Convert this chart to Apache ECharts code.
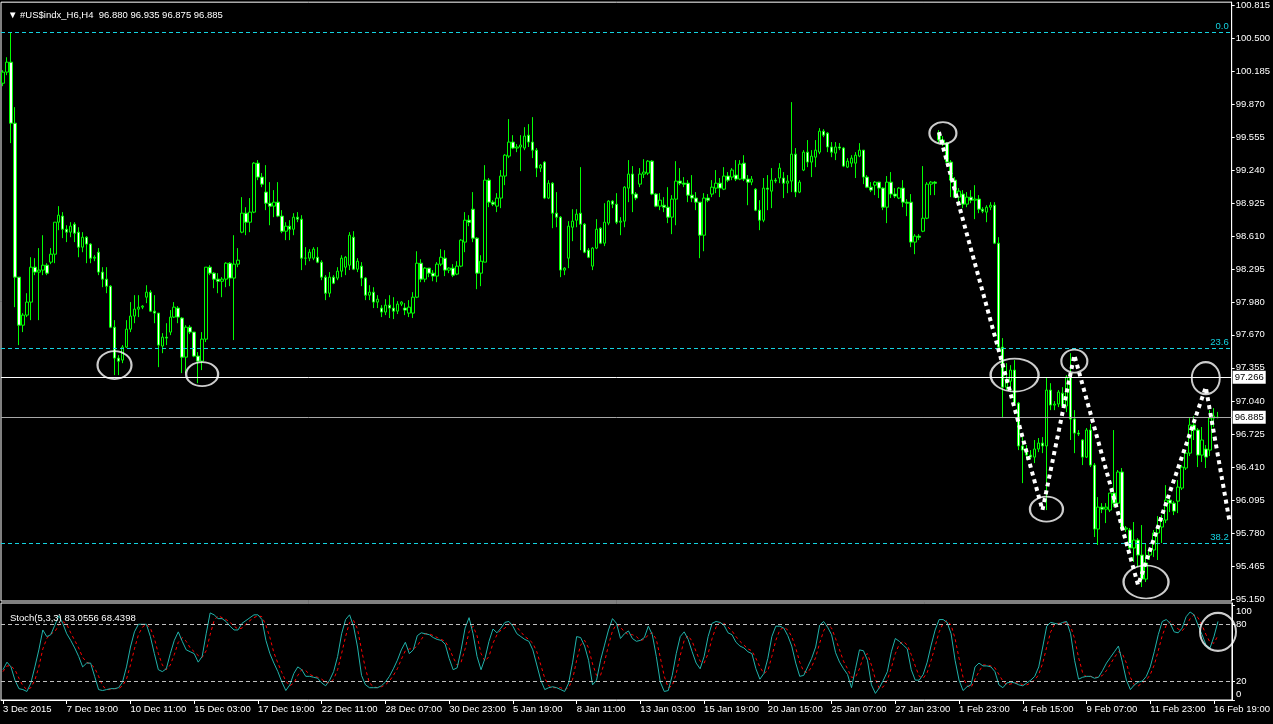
<!DOCTYPE html>
<html><head><meta charset="utf-8">
<script src="https://cdn.jsdelivr.net/npm/echarts@6/dist/echarts.min.js"></script>
<style>html,body{margin:0;padding:0;background:#000;overflow:hidden}#c{width:1273px;height:724px}</style>
</head><body><div id="c"></div>
<script>
const timeLabels = ['3 Dec 2015','7 Dec 19:00','10 Dec 11:00','15 Dec 03:00','17 Dec 19:00','22 Dec 11:00','28 Dec 07:00','30 Dec 23:00','5 Jan 19:00','8 Jan 11:00','13 Jan 03:00','15 Jan 19:00','20 Jan 15:00','25 Jan 07:00','27 Jan 23:00','1 Feb 23:00','4 Feb 15:00','9 Feb 07:00','11 Feb 23:00','16 Feb 19:00'];
const priceTicks = [95.150,95.465,95.780,96.095,96.410,96.725,97.040,97.355,97.670,97.980,98.295,98.610,98.925,99.240,99.555,99.870,100.185,100.500,100.815];
const stochTicks = [0,20,80,100];

const opens = [100.069,100.175,100.270,99.688,98.220,97.762,97.858,97.982,98.315,98.268,
98.287,98.334,98.363,98.439,98.744,98.802,98.677,98.649,98.725,98.649,
98.506,98.601,98.535,98.401,98.458,98.268,98.201,98.134,97.743,97.448,
97.429,97.553,97.724,97.849,97.915,97.934,98.029,98.077,97.896,97.877,
97.563,97.648,97.696,97.839,97.925,97.830,97.457,97.743,97.696,97.467,
97.419,97.629,98.315,98.258,98.201,98.181,98.201,98.353,98.211,98.344,
98.649,98.830,98.744,98.840,99.307,99.174,99.031,98.925,98.897,98.935,
98.802,98.658,98.706,98.677,98.792,98.773,98.401,98.401,98.401,98.410,
98.363,98.220,98.067,98.220,98.211,98.277,98.315,98.334,98.601,98.296,
98.325,98.211,98.048,98.077,97.982,97.925,97.887,97.953,97.925,97.896,
97.963,97.925,97.877,97.877,98.029,98.353,98.201,98.306,98.258,98.230,
98.344,98.401,98.287,98.306,98.249,98.325,98.554,98.763,98.868,98.592,
98.258,98.363,99.145,98.935,98.897,98.974,99.184,99.374,99.508,99.451,
99.461,99.451,99.574,99.508,99.431,99.260,99.317,98.974,99.116,98.830,
98.792,98.287,98.401,98.696,98.763,98.830,98.725,98.477,98.325,98.497,
98.687,98.544,98.735,98.945,98.916,98.744,98.754,99.069,99.203,99.012,
99.107,99.203,99.212,99.326,99.012,98.897,98.906,98.887,98.792,98.964,
99.136,99.116,99.116,99.002,98.974,98.935,98.620,98.974,99.012,99.069,
99.116,99.059,99.184,99.174,99.193,99.155,99.307,99.155,99.126,99.059,
98.859,98.763,99.069,99.040,99.145,99.165,99.165,99.116,99.136,99.393,
99.031,99.241,99.412,99.317,99.364,99.412,99.612,99.593,99.461,99.403,
99.461,99.451,99.269,99.307,99.307,99.374,99.431,99.174,99.078,99.097,
99.126,99.069,98.887,99.126,99.012,98.974,99.069,98.935,98.935,98.554,
98.611,98.658,98.782,99.107,99.126,99.593,99.527,99.498,99.317,99.145,
98.983,99.012,98.916,98.983,98.954,98.964,98.868,98.840,98.887,98.906,
98.544,97.553,97.171,97.228,97.334,97.019,96.610,96.571,96.523,96.504,
96.581,96.638,96.610,97.143,97.000,97.010,97.114,96.991,97.286,96.867,
96.733,96.667,96.504,96.762,96.428,95.818,96.027,96.008,95.999,96.161,
96.065,96.362,95.818,95.809,95.637,95.713,95.570,95.341,95.570,95.618,
95.780,95.837,95.904,96.094,96.065,96.084,96.209,96.400,96.542,96.810,
96.762,96.523,96.581,96.571,96.876,96.880];

const closes = [100.175,100.270,99.688,98.220,97.762,97.858,97.982,98.315,98.268,98.287,
98.334,98.258,98.439,98.744,98.811,98.677,98.649,98.706,98.639,98.506,
98.601,98.535,98.401,98.410,98.268,98.201,98.134,97.743,97.448,97.419,
97.553,97.724,97.849,97.915,97.934,97.944,98.077,97.896,97.877,97.572,
97.648,97.639,97.839,97.934,97.839,97.457,97.743,97.696,97.467,97.419,
97.629,98.315,98.258,98.201,98.181,98.201,98.353,98.211,98.344,98.382,
98.830,98.744,98.840,99.307,99.174,99.107,98.925,98.897,98.935,98.802,
98.658,98.706,98.677,98.792,98.773,98.401,98.401,98.458,98.487,98.363,
98.220,98.067,98.220,98.162,98.277,98.401,98.410,98.620,98.296,98.372,
98.211,98.048,98.077,97.982,98.010,97.887,97.953,97.925,97.896,97.963,
97.982,97.906,97.934,98.029,98.353,98.201,98.306,98.258,98.230,98.344,
98.410,98.287,98.306,98.239,98.325,98.573,98.763,98.744,98.592,98.258,
98.372,99.145,98.935,98.916,98.974,99.184,99.383,99.508,99.451,99.461,
99.480,99.565,99.508,99.431,99.260,99.288,98.974,99.116,98.830,98.792,
98.287,98.306,98.706,98.754,98.821,98.725,98.458,98.410,98.497,98.677,
98.544,98.744,98.945,98.916,98.744,98.754,99.078,99.203,99.012,98.974,
99.203,99.222,99.326,99.012,98.897,98.954,98.887,98.792,98.964,99.136,
99.116,99.107,99.002,98.974,98.935,98.620,98.974,98.954,99.078,99.116,
99.069,99.184,99.145,99.241,99.155,99.298,99.155,99.126,99.155,98.859,
98.763,99.069,99.059,99.145,99.136,99.260,99.116,99.136,99.393,99.031,
99.126,99.412,99.317,99.374,99.431,99.612,99.574,99.461,99.412,99.461,
99.451,99.279,99.326,99.355,99.383,99.431,99.174,99.078,99.050,99.126,
99.069,98.887,99.126,99.012,98.993,99.069,98.935,98.925,98.554,98.611,
98.601,98.782,99.107,99.126,99.116,99.527,99.498,99.317,99.145,98.983,
99.040,98.916,98.983,98.954,98.964,98.868,98.849,98.887,98.906,98.544,
97.553,97.171,97.228,97.334,97.019,96.610,96.571,96.523,96.504,96.581,
96.638,96.610,97.143,97.000,97.010,97.124,96.991,97.267,96.867,96.733,
96.724,96.504,96.762,96.428,95.818,96.027,96.008,96.027,96.161,96.065,
96.362,95.818,95.828,95.637,95.713,95.570,95.341,95.494,95.618,95.780,
95.837,95.904,96.094,96.065,95.989,96.218,96.409,96.542,96.810,96.762,
96.523,96.667,96.504,96.876,96.895,96.885];

const lows = [100.041,100.146,99.498,97.934,97.572,97.696,97.839,97.810,98.239,97.810,
98.239,98.239,98.344,98.353,98.668,98.592,98.554,98.601,98.554,98.410,
98.458,98.353,98.353,98.372,98.239,98.124,98.067,97.734,97.286,97.286,
97.400,97.544,97.696,97.781,97.839,97.915,97.972,97.887,97.781,97.362,
97.495,97.572,97.667,97.830,97.781,97.305,97.305,97.677,97.457,97.209,
97.334,97.601,98.239,98.115,98.067,98.029,98.124,98.134,97.620,98.315,
98.639,98.620,98.649,98.830,99.145,99.078,98.859,98.715,98.792,98.792,
98.639,98.573,98.573,98.620,98.744,98.287,98.334,98.372,98.382,98.353,
98.191,98.001,98.029,98.153,98.191,98.220,98.239,98.287,98.287,98.268,
98.134,98.001,98.001,97.925,97.925,97.839,97.858,97.830,97.820,97.868,
97.944,97.858,97.839,97.830,98.020,98.172,98.172,98.220,98.181,98.172,
98.325,98.230,98.258,98.220,98.239,98.315,98.458,98.706,98.554,98.105,
98.134,98.363,98.887,98.897,98.840,98.878,99.097,99.355,99.441,99.412,
99.231,99.431,99.461,99.355,99.174,99.222,98.964,98.964,98.687,98.696,
98.220,98.239,98.306,98.563,98.696,98.477,98.448,98.401,98.287,98.487,
98.535,98.516,98.715,98.878,98.725,98.620,98.696,98.935,98.840,98.954,
99.078,99.165,99.193,99.002,98.887,98.859,98.840,98.735,98.630,98.715,
99.097,99.078,98.935,98.935,98.859,98.401,98.467,98.935,98.983,99.021,
98.983,99.050,99.126,99.145,99.136,99.145,99.136,98.906,99.097,98.849,
98.668,98.744,98.859,98.878,99.116,99.116,98.974,99.021,99.031,98.983,
99.021,99.231,99.269,99.174,99.269,99.393,99.555,99.412,99.364,99.336,
99.431,99.269,99.260,99.269,99.165,99.364,99.107,99.069,99.031,99.002,
98.974,98.859,98.735,98.974,98.974,98.964,98.887,98.802,98.506,98.439,
98.573,98.649,98.773,99.002,99.002,99.498,99.470,99.307,98.983,98.974,
98.925,98.878,98.887,98.925,98.773,98.830,98.830,98.744,98.859,98.535,
97.524,96.876,97.143,97.124,97.010,96.571,96.256,96.476,96.486,96.447,
96.552,96.542,95.999,96.952,96.952,96.981,96.981,96.933,96.667,96.542,
96.705,96.428,96.495,96.409,95.742,95.666,95.970,95.875,95.980,96.027,
96.027,95.809,95.790,95.589,95.504,95.456,95.265,95.313,95.523,95.551,
95.523,95.685,95.875,95.980,95.951,95.970,96.190,96.381,96.514,96.667,
96.409,96.457,96.400,96.514,96.790,96.875];

const highs = [100.194,100.317,100.555,99.841,98.220,97.877,98.067,98.410,98.401,98.497,
98.620,98.353,98.497,98.744,98.897,98.840,98.715,98.744,98.744,98.696,
98.649,98.611,98.544,98.429,98.497,98.315,98.315,98.143,97.810,97.476,
97.572,97.810,97.982,98.048,98.048,97.953,98.143,98.096,98.048,97.877,
97.686,97.781,97.906,97.982,97.944,97.839,97.762,97.762,97.696,97.505,
97.696,98.315,98.334,98.268,98.258,98.220,98.363,98.363,98.620,98.497,
98.983,98.887,98.974,99.317,99.336,99.212,99.288,99.126,99.050,99.126,
98.859,98.744,98.763,98.830,98.840,98.811,98.506,98.487,98.506,98.506,
98.382,98.239,98.268,98.239,98.315,98.429,98.420,98.649,98.658,98.401,
98.363,98.220,98.143,98.124,98.048,97.953,98.010,98.048,98.029,97.991,
97.991,97.972,98.001,98.077,98.467,98.391,98.315,98.306,98.287,98.363,
98.487,98.477,98.315,98.344,98.372,98.582,98.840,98.811,99.031,98.601,
98.429,99.288,99.165,98.954,99.021,99.241,99.393,99.727,99.574,99.489,
99.574,99.650,99.679,99.746,99.451,99.298,99.326,99.145,99.126,99.031,
98.802,98.315,98.754,98.868,98.868,99.269,98.735,98.497,98.506,98.773,
98.696,98.925,98.954,98.954,99.021,98.792,99.088,99.336,99.279,99.031,
99.260,99.345,99.336,99.336,99.021,99.021,98.983,99.078,99.002,99.326,
99.260,99.174,99.145,99.193,99.031,98.935,99.021,99.012,99.145,99.241,
99.165,99.269,99.222,99.260,99.336,99.336,99.383,99.193,99.184,99.069,
98.954,99.165,99.193,99.260,99.165,99.307,99.222,99.193,99.889,99.451,
99.145,99.431,99.527,99.431,99.527,99.641,99.631,99.603,99.508,99.508,
99.498,99.461,99.355,99.383,99.412,99.498,99.431,99.193,99.126,99.136,
99.126,99.078,99.184,99.222,99.069,99.078,99.145,98.964,99.012,98.630,
98.630,99.279,99.126,99.136,99.136,99.622,99.565,99.508,99.336,99.174,
99.069,99.050,99.031,99.050,99.097,99.002,98.887,98.906,98.935,98.935,
98.601,97.639,97.400,97.381,97.429,97.029,96.695,96.619,96.571,96.667,
96.686,96.695,97.267,97.209,97.038,97.143,97.171,97.286,97.495,96.952,
96.762,96.676,96.781,96.819,96.447,96.123,96.065,96.065,96.161,96.762,
96.381,96.400,95.847,95.828,95.885,95.732,95.856,95.685,95.637,95.809,
95.942,95.951,96.237,96.113,96.084,96.285,96.428,96.571,96.876,96.895,
96.781,96.791,96.619,96.952,96.971,96.935];

const stochK = [32,40,35,21,12,11,9,18,35,53,
74,67,69,79,89,81,70,63,55,46,
35,39,39,25,11,10,11,12,12,13,
19,35,56,72,80,80,80,67,49,32,
30,33,49,63,72,62,53,51,49,40,
46,70,92,90,86,86,83,78,74,74,
81,84,87,90,90,85,63,49,39,30,
19,10,16,28,35,32,25,25,24,23,
18,15,21,30,46,70,85,90,78,56,
26,16,13,13,13,15,19,25,33,42,
53,61,49,53,68,71,70,69,66,64,
63,59,44,32,34,53,76,87,70,46,
32,44,62,75,71,76,82,83,78,70,
67,64,62,53,37,21,11,13,14,13,
11,9,18,40,67,66,57,42,16,21,
42,58,74,86,81,65,70,73,65,62,
63,66,78,69,46,19,9,10,26,49,
67,72,64,51,39,33,46,67,81,83,
82,79,71,69,61,57,55,51,49,33,
22,28,44,67,78,78,76,68,57,39,
25,26,35,44,56,79,83,77,69,50,
40,33,27,13,33,53,52,42,16,7,
13,21,30,51,65,62,58,54,32,21,
21,27,40,58,74,85,85,82,70,42,
21,10,14,16,35,39,36,36,35,30,
16,13,18,19,18,16,15,18,21,25,
35,56,78,82,81,80,82,83,70,42,
22,24,25,25,23,24,31,39,45,51,
57,40,21,11,16,19,20,25,35,51,
69,83,85,81,72,71,76,88,93,90,
79,69,58,55,67.3,83.0556];

const stochD = [30,36,36,32,23,15,11,13,21,35,
54,65,70,72,79,83,80,71,63,55,
45,40,38,34,25,15,11,11,12,12,
15,22,37,54,69,77,80,76,65,49,
37,32,37,48,61,66,62,55,51,47,
45,52,69,84,89,87,85,82,78,75,
76,80,84,87,89,88,79,66,50,39,
29,20,15,18,26,32,31,27,25,24,
22,19,18,22,32,49,67,82,84,75,
53,33,18,14,13,14,16,20,26,33,
43,52,54,54,57,64,70,70,68,66,
64,62,55,45,37,40,54,72,78,68,
49,41,46,60,69,74,76,80,81,77,
72,67,64,60,51,37,23,15,13,13,
13,11,13,22,42,58,63,55,38,26,
26,40,58,73,80,77,72,69,69,67,
63,64,69,71,64,45,25,13,15,28,
47,63,68,62,51,41,39,49,65,77,
82,81,77,73,67,62,58,54,52,44,
35,28,31,46,63,74,77,74,67,55,
40,30,29,35,45,60,73,80,76,65,
53,41,33,24,24,33,46,49,37,22,
12,14,21,34,49,59,62,58,48,36,
25,23,29,42,57,72,81,84,79,65,
44,24,15,13,22,30,37,37,36,34,
27,20,16,17,18,18,16,16,18,21,
27,39,56,72,80,81,81,82,78,65,
45,29,24,25,24,24,26,31,38,45,
51,49,39,24,16,15,18,21,27,37,
52,68,79,83,79,75,73,78,86,90,
87,79,69,61,60,68.4398];

const fibNames = ['0.0','23.6','38.2'];
const fibValues = [100.555, 97.543, 95.685];
const priceLines = [97.266, 96.885];
const stochLevels = [80, 20];
const circlePoints = [[28,97.382],[50,97.295],[236,99.593],[254,97.286],[262,96.008],[269,97.419],[287,95.313],[302,97.257]];
const stochCirclePoints = [[305,72]];
const zigzagPoints = [[235,99.603],[261,95.999],[269,97.476],[285,95.284],[302,97.171],[308,95.885]];
const titleText = '#US$indx_H6,H4  96.880 96.935 96.875 96.885';
const stochTitle = 'Stoch(5,3,3) 83.0556 68.4398';

// presentation
const circleSizes = [[34,28],[32,24],[27,22],[48,33],[33,25],[26,23],[45,33],[28,32]];
const stochCircleSize = [36,38];
const FONT = 'Liberation Sans';
const CYAN = '#14d2e0';
const nCats = 309;
const cats = Array.from({length: nCats}, (_, i) => String(i));
const candles = opens.map((o, i) => [o, closes[i], lows[i], highs[i]]);

const chart = echarts.init(document.getElementById('c'), null, {renderer: 'canvas'});
const labelStyle = {color: '#fff', fontFamily: FONT, fontSize: 9.5};

chart.setOption({
  backgroundColor: '#000',
  animation: false,
  title: [
    {text: '\u25BC ' + titleText, left: 3, top: 5, textStyle: {color: '#fff', fontFamily: FONT, fontSize: 9.5, fontWeight: 'normal'}},
    {text: stochTitle, left: 5, top: 608, textStyle: {color: '#fff', fontFamily: FONT, fontSize: 9.5, fontWeight: 'normal'}}
  ],
  grid: [
    {left: 1, top: 2, width: 1236, height: 599, show: true, borderColor: '#fff', borderWidth: 1, backgroundColor: '#000'},
    {left: 1, top: 603, width: 1236, height: 97, show: true, borderColor: '#fff', borderWidth: 1, backgroundColor: '#000'}
  ],
  xAxis: [
    {type: 'category', gridIndex: 0, data: cats, boundaryGap: true, axisLine: {show: false}, axisTick: {show: false}, axisLabel: {show: false}, splitLine: {show: false}},
    {type: 'category', gridIndex: 1, data: cats, boundaryGap: true,
     axisLine: {show: true, lineStyle: {color: '#fff', width: 1}},
     axisTick: {show: true, alignWithLabel: true, interval: (i) => i % 16 === 0, length: 4, lineStyle: {color: '#fff'}},
     axisLabel: Object.assign({interval: (i) => i % 16 === 0, formatter: (v, i) => (i % 16 === 0 ? (timeLabels[i / 16] || '') : ''), align: 'left', margin: 4, hideOverlap: false}, labelStyle),
     splitLine: {show: false}}
  ],
  yAxis: [
    {type: 'value', gridIndex: 0, position: 'right', min: 95.132, max: 100.842, scale: true,
     axisLine: {show: true, lineStyle: {color: '#fff'}},
     axisTick: {show: true, length: 3, lineStyle: {color: '#fff'}, customValues: priceTicks},
     axisLabel: Object.assign({customValues: priceTicks, formatter: (v) => v.toFixed(3), margin: 4}, labelStyle),
     splitLine: {show: false}},
    {type: 'value', gridIndex: 1, position: 'right', min: 0, max: 102.5,
     axisLine: {show: true, lineStyle: {color: '#fff'}},
     axisTick: {show: true, length: 3, lineStyle: {color: '#fff'}, customValues: stochTicks},
     axisLabel: Object.assign({customValues: stochTicks, margin: 4,
       formatter: (v) => v === 100 ? '{a|100}' : (v === 0 ? '{b|0}' : String(v)),
       rich: {a: {padding: [12, 0, 0, 0], color: '#fff', fontFamily: FONT, fontSize: 9.5}, b: {padding: [0, 0, 12, 0], color: '#fff', fontFamily: FONT, fontSize: 9.5}}}, labelStyle),
     splitLine: {show: false}}
  ],
  series: [
    {type: 'candlestick', xAxisIndex: 0, yAxisIndex: 0, data: candles, barWidth: 3,
     itemStyle: {color: '#000000', color0: '#ffffff', borderColor: '#00ff00', borderColor0: '#00ff00', borderColorDoji: '#00ff00', borderWidth: 1},
     emphasis: {disabled: true},
     markLine: {silent: true, symbol: ['none', 'none'], precision: 3, animation: false,
       data: fibValues.map((v, i) => ({yAxis: v, lineStyle: {color: CYAN, type: [4, 3], width: 1},
         label: {show: true, position: 'insideEndTop', formatter: fibNames[i], color: CYAN, fontFamily: FONT, fontSize: 9.5, distance: [3, 1]}}))
         .concat(priceLines.map((v, i) => ({yAxis: v, lineStyle: {color: i === 0 ? '#ffffff' : '#a8a8a8', type: 'solid', width: 1},
         label: {show: true, position: 'end', formatter: v.toFixed(3), color: '#000', backgroundColor: '#fff', padding: [2, 2, 1, 2], fontFamily: FONT, fontSize: 9.5, distance: 1}})))
     }},
    {type: 'line', xAxisIndex: 0, yAxisIndex: 0, data: zigzagPoints, symbol: 'none', silent: true,
     lineStyle: {color: '#ffffff', width: 4, type: [4, 4], cap: 'butt'}, z: 5},
    {type: 'scatter', xAxisIndex: 0, yAxisIndex: 0, silent: true, z: 6,
     data: circlePoints.map((p, i) => ({value: p, symbolSize: circleSizes[i]})), symbol: 'circle',
     itemStyle: {color: 'rgba(0,0,0,0)', borderColor: '#ffffff', borderWidth: 2}},
    {type: 'line', xAxisIndex: 1, yAxisIndex: 1, data: stochK, symbol: 'none', silent: true,
     lineStyle: {color: '#20b2aa', width: 1}, z: 4,
     markLine: {silent: true, symbol: ['none', 'none'], label: {show: false}, animation: false,
       data: stochLevels.map((v) => ({yAxis: v, lineStyle: {color: '#c0c0c0', type: [4, 3], width: 1}}))}},
    {type: 'line', xAxisIndex: 1, yAxisIndex: 1, data: stochD, symbol: 'none', silent: true,
     lineStyle: {color: '#ff0000', width: 1, type: [3, 3]}, z: 3},
    {type: 'scatter', xAxisIndex: 1, yAxisIndex: 1, silent: true, z: 6,
     data: stochCirclePoints, symbol: 'circle', symbolSize: stochCircleSize,
     itemStyle: {color: 'rgba(0,0,0,0)', borderColor: '#ffffff', borderWidth: 2}}
  ]
});
</script>
</body></html>
